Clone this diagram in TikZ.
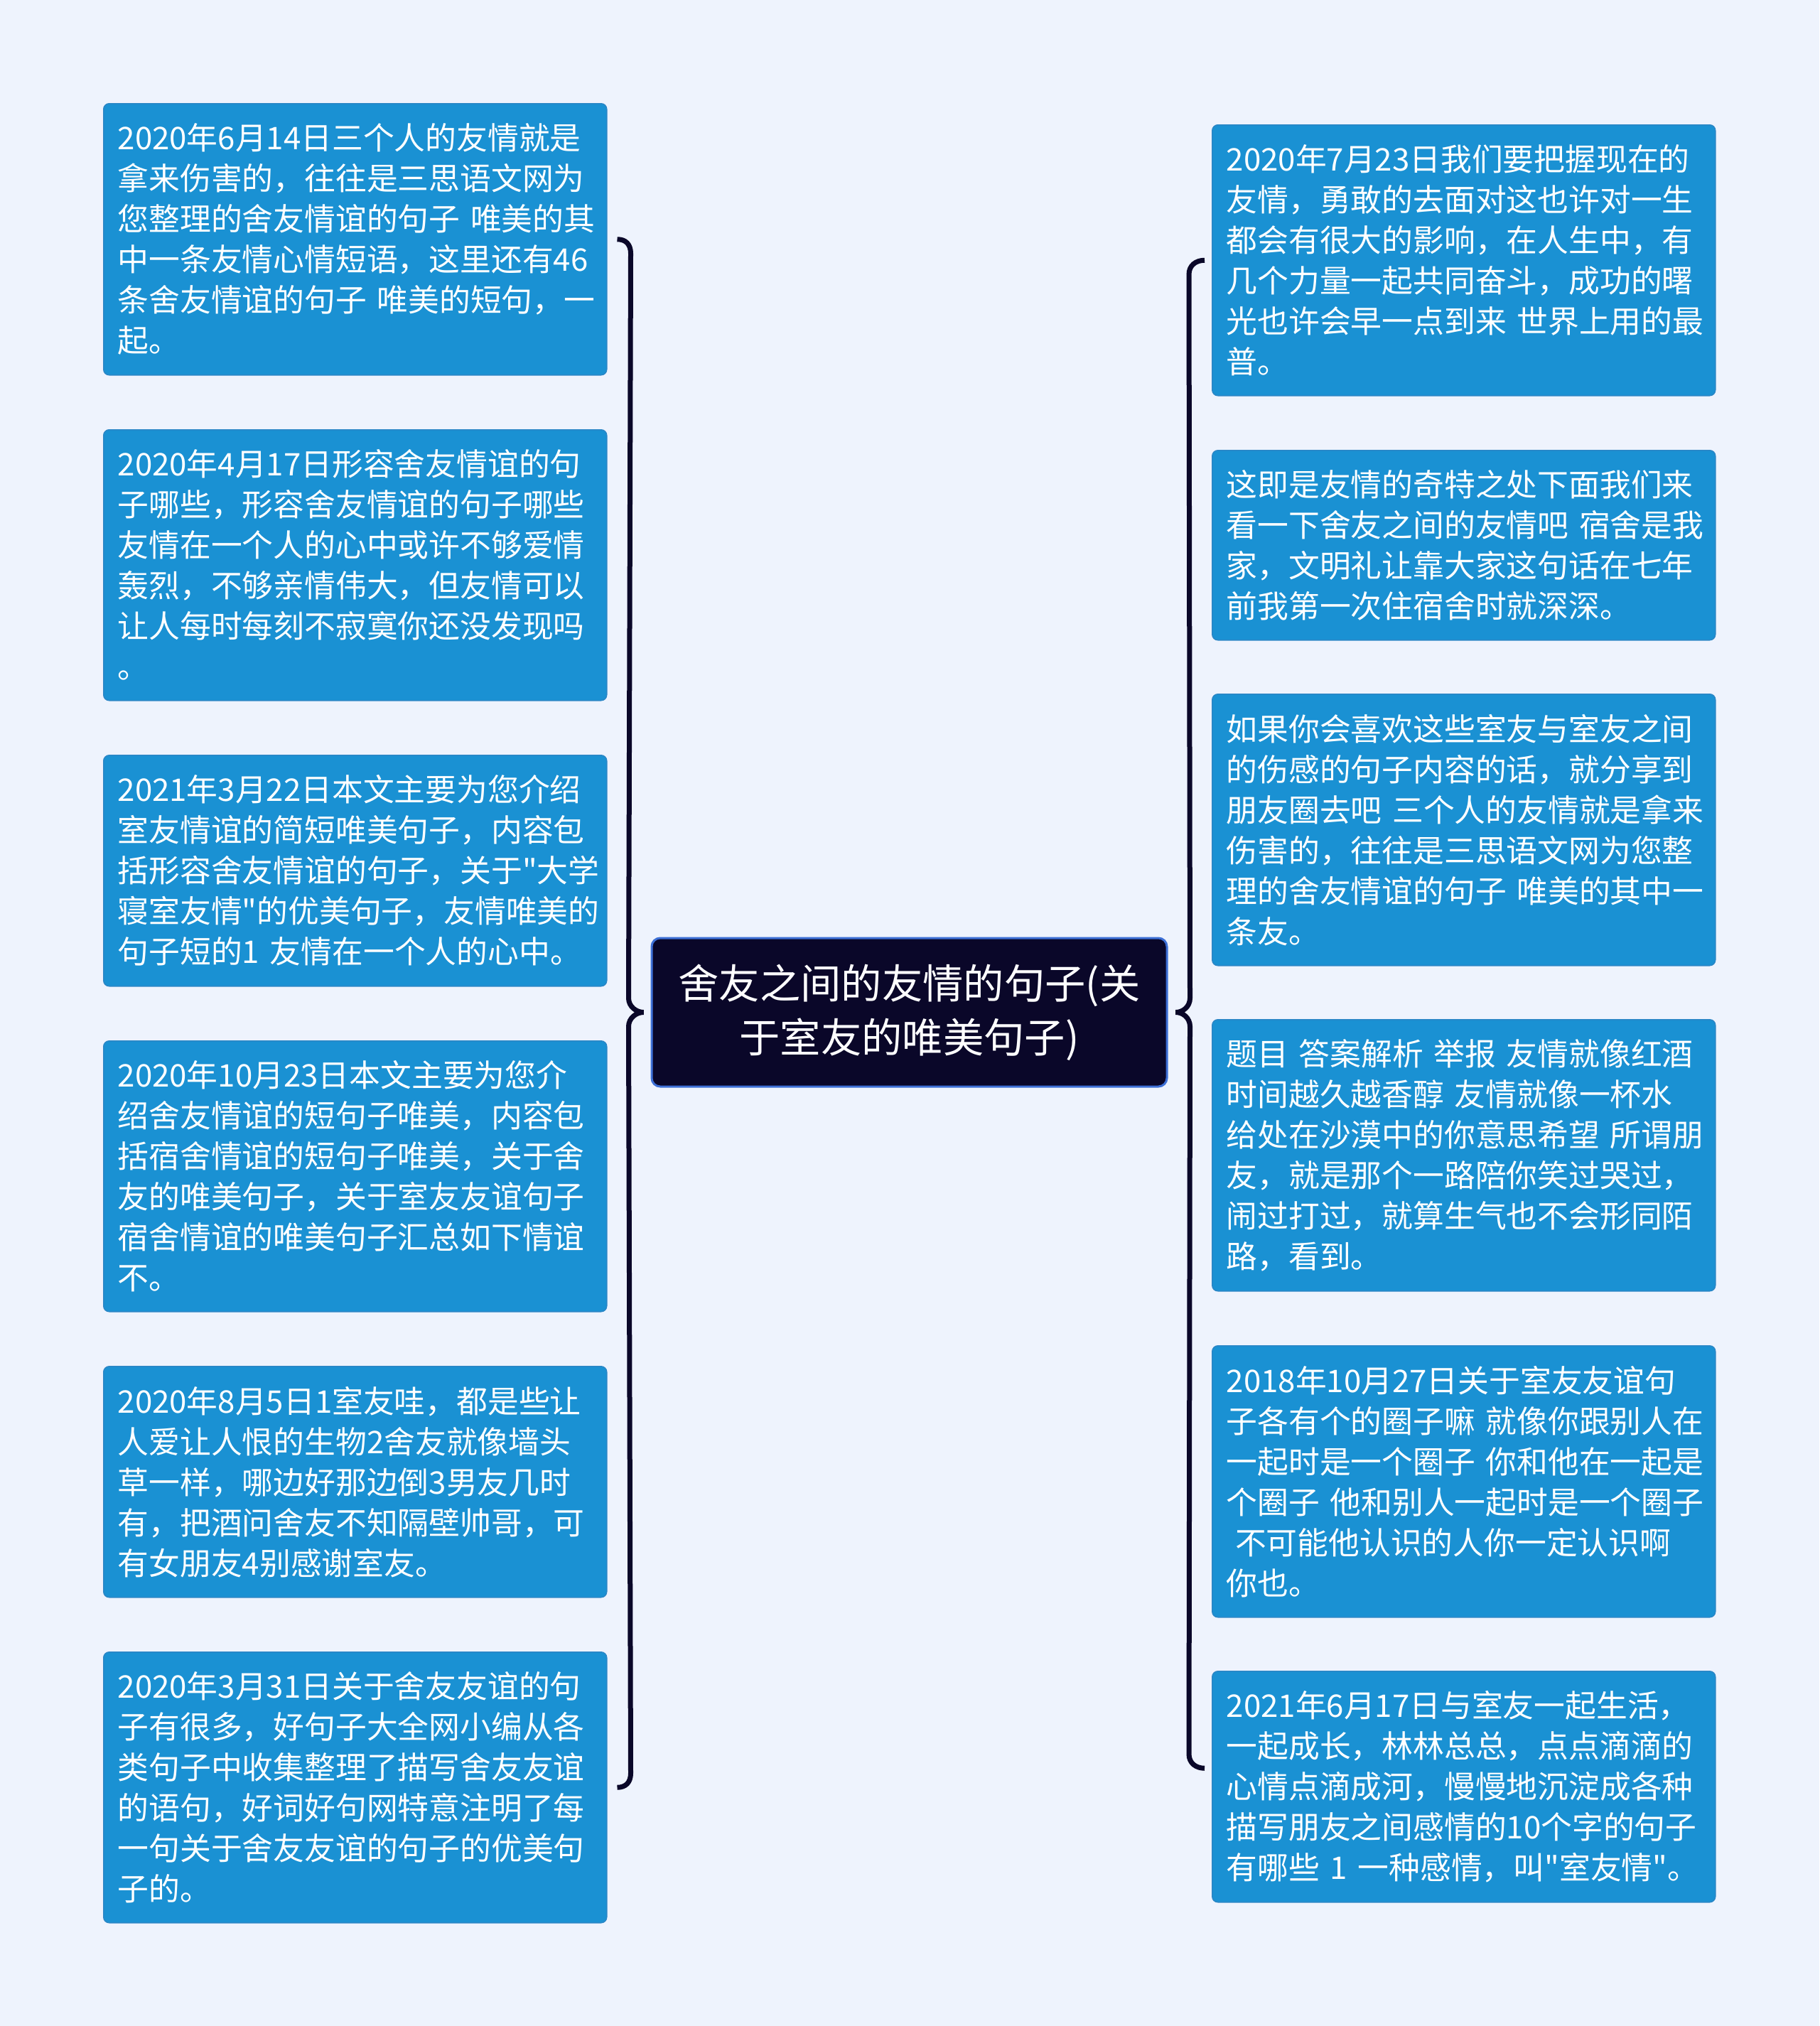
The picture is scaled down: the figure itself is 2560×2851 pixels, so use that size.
\documentclass[tikz,border=0pt]{standalone}
\usepackage{fontspec}
\newfontfamily\cjkfont{Noto Sans CJK SC}
\setmainfont{Noto Sans CJK SC}
\usetikzlibrary{calc}
\definecolor{bgcol}{HTML}{EEF3FD}
\definecolor{boxfill}{HTML}{1A91D3}
\definecolor{boxborder}{HTML}{2A86C6}
\definecolor{navy}{HTML}{0A0729}
\definecolor{rootborder}{HTML}{3D6FD6}
\newcommand{\boxfont}{\cjkfont\fontsize{43.8}{57}\selectfont}
\newcommand{\rootfont}{\cjkfont\fontsize{57.3}{76}\selectfont}
\begin{document}
\begin{tikzpicture}[x=1pt,y=-1pt,
  leaf/.style={draw=boxborder, line width=1.5, fill=boxfill, rounded corners=8,
    text=white, align=left, text width=668, inner xsep=20, inner ysep=0,
    anchor=north west, font=\boxfont},
  rootbox/.style={draw=rootborder, line width=3, fill=navy, rounded corners=12,
    text=white, align=center, minimum width=725, minimum height=209,
    inner sep=0, font=\rootfont},
  bracestyle/.style={draw=navy, line width=7}]
\useasboundingbox (0,0) rectangle (2560,2851);
\fill[bgcol] (0,0) rectangle (2560,2851);

% root
\node[rootbox] (C) at (1279.5,1424.5) {舍友之间的友情的句子(关\\于室友的唯美句子)};

% left leaves
\node[leaf, minimum height=382] (L1) at (145,145) {2020年6月14日三个人的友情就是\\拿来伤害的，往往是三思语文网为\\您整理的舍友情谊的句子~唯美的其\\中一条友情心情短语，这里还有46\\条舍友情谊的句子~唯美的短句，一\\起。};
\node[leaf, minimum height=381] (L2) at (145,604) {2020年4月17日形容舍友情谊的句\\子哪些，形容舍友情谊的句子哪些\\友情在一个人的心中或许不够爱情\\轰烈，不够亲情伟大，但友情可以\\让人每时每刻不寂寞你还没发现吗\\。};
\node[leaf, minimum height=325] (L3) at (145,1062) {2021年3月22日本文主要为您介绍\\室友情谊的简短唯美句子，内容包\\括形容舍友情谊的句子，关于"大学\\寝室友情"的优美句子，友情唯美的\\句子短的1~友情在一个人的心中。};
\node[leaf, minimum height=381] (L4) at (145,1464) {2020年10月23日本文主要为您介\\绍舍友情谊的短句子唯美，内容包\\括宿舍情谊的短句子唯美，关于舍\\友的唯美句子，关于室友友谊句子\\宿舍情谊的唯美句子汇总如下情谊\\不。};
\node[leaf, minimum height=325] (L5) at (145,1922) {2020年8月5日1室友哇，都是些让\\人爱让人恨的生物2舍友就像墙头\\草一样，哪边好那边倒3男友几时\\有，把酒问舍友不知隔壁帅哥，可\\有女朋友4别感谢室友。};
\node[leaf, minimum height=381] (L6) at (145,2324) {2020年3月31日关于舍友友谊的句\\子有很多，好句子大全网小编从各\\类句子中收集整理了描写舍友友谊\\的语句，好词好句网特意注明了每\\一句关于舍友友谊的句子的优美句\\子的。};

% right leaves
\node[leaf, minimum height=381] (R1) at (1705,175) {2020年7月23日我们要把握现在的\\友情，勇敢的去面对这也许对一生\\都会有很大的影响，在人生中，有\\几个力量一起共同奋斗，成功的曙\\光也许会早一点到来~世界上用的最\\普。};
\node[leaf, minimum height=267] (R2) at (1705,633) {这即是友情的奇特之处下面我们来\\看一下舍友之间的友情吧~宿舍是我\\家，文明礼让靠大家这句话在七年\\前我第一次住宿舍时就深深。};
\node[leaf, minimum height=382] (R3) at (1705,976) {如果你会喜欢这些室友与室友之间\\的伤感的句子内容的话，就分享到\\朋友圈去吧~三个人的友情就是拿来\\伤害的，往往是三思语文网为您整\\理的舍友情谊的句子~唯美的其中一\\条友。};
\node[leaf, minimum height=382] (R4) at (1705,1434) {题目~答案解析~举报~友情就像红酒\\时间越久越香醇~友情就像一杯水\\给处在沙漠中的你意思希望~所谓朋\\友，就是那个一路陪你笑过哭过，\\闹过打过，就算生气也不会形同陌\\路，看到。};
\node[leaf, minimum height=382] (R5) at (1705,1893) {2018年10月27日关于室友友谊句\\子各有个的圈子嘛~就像你跟别人在\\一起时是一个圈子~你和他在一起是\\个圈子~他和别人一起时是一个圈子\\\hspace*{0.28em}不可能他认识的人你一定认识啊\\你也。};
\node[leaf, minimum height=325] (R6) at (1705,2351) {2021年6月17日与室友一起生活，\\一起成长，林林总总，点点滴滴的\\心情点滴成河，慢慢地沉淀成各种\\描写朋友之间感情的10个字的句子\\有哪些~1~一种感情，叫"室友情"。};

% brace anchors
\coordinate (lt) at ($(L1.east)+(14,0)$);
\coordinate (lb) at ($(L6.east)+(14,0)$);
\coordinate (lm) at ($(C.west)+(-10,0)$);
\coordinate (rt) at ($(R1.west)+(-10,0)$);
\coordinate (rb) at ($(R6.west)+(-10,-26)$);
\coordinate (rm) at ($(C.east)+(11,0)$);

% left brace
\draw[bracestyle] (lt) .. controls ($(lt)+(12,0)$) and ($(lt)+(19,7)$) .. ($(lt)+(19,20)$)
  -- ($(lm)+(-21,-20)$)
  .. controls ($(lm)+(-21,-8)$) and ($(lm)+(-10,0)$) .. (lm)
  .. controls ($(lm)+(-10,0)$) and ($(lm)+(-21,8)$) .. ($(lm)+(-21,20)$)
  -- ($(lb)+(19,-20)$)
  .. controls ($(lb)+(19,-7)$) and ($(lb)+(12,0)$) .. (lb);

% right brace
\draw[bracestyle] (rt) .. controls ($(rt)+(-12,0)$) and ($(rt)+(-22,7)$) .. ($(rt)+(-22,20)$)
  -- ($(rm)+(20,-20)$)
  .. controls ($(rm)+(20,-8)$) and ($(rm)+(10,0)$) .. (rm)
  .. controls ($(rm)+(10,0)$) and ($(rm)+(20,8)$) .. ($(rm)+(20,20)$)
  -- ($(rb)+(-22,-20)$)
  .. controls ($(rb)+(-22,-7)$) and ($(rb)+(-12,0)$) .. (rb);
\end{tikzpicture}
\end{document}
